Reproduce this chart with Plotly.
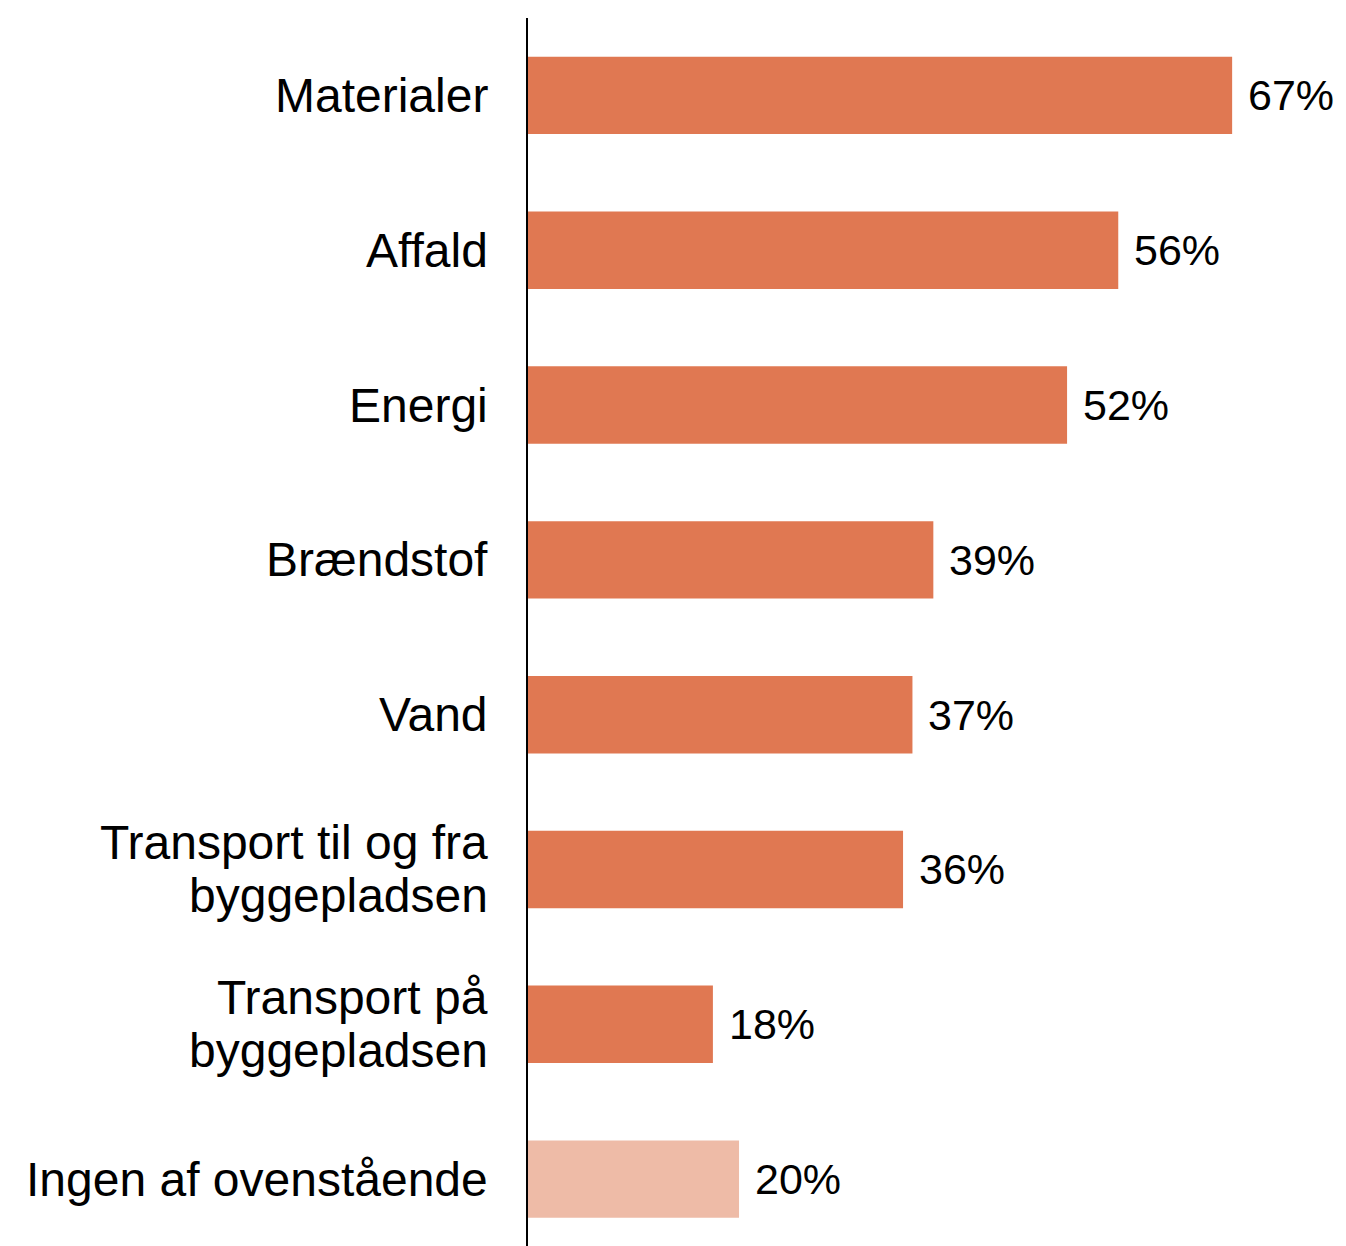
import plotly.graph_objects as go

categories = ["Materialer", "Affald", "Energi", "Brændstof", "Vand",
              "Transport til og fra\nbyggepladsen", "Transport på\nbyggepladsen",
              "Ingen af ovenstående"]
values = [67.4, 56.5, 51.6, 38.8, 36.8, 35.9, 17.7, 20.2]
labels = ["67%", "56%", "52%", "39%", "37%", "36%", "18%", "20%"]
colors = ["#E07852"] * 7 + ["#EEBBA7"]

FONT = "Liberation Sans, Arial, sans-serif"

fig = go.Figure(go.Bar(
    x=values, y=list(range(len(categories))), orientation="h",
    marker=dict(color=colors, line=dict(width=0)),
    hoverinfo="skip",
))

annotations = []
for i, (cat, v, lab) in enumerate(zip(categories, values, labels)):
    lines = cat.split("\n")
    n = len(lines)
    spacing = 53
    for j, line in enumerate(lines):
        shift = (n - 1) / 2 * spacing - j * spacing
        annotations.append(dict(
            x=0, xref="x", y=i, yref="y", text=line, showarrow=False,
            xanchor="right", yanchor="middle", xshift=-38, yshift=shift,
            font=dict(family=FONT, size=48, color="#000000"),
        ))
    annotations.append(dict(
        x=v, xref="x", y=i, yref="y", text=lab, showarrow=False,
        xanchor="left", yanchor="middle", xshift=14,
        font=dict(family=FONT, size=43, color="#000000"),
    ))

fig.update_layout(
    width=1338, height=1238,
    margin=dict(l=520, r=0, t=10, b=0),
    plot_bgcolor="white", paper_bgcolor="white",
    bargap=0.5, showlegend=False,
    annotations=annotations,
    xaxis=dict(range=[0, 78.3], showgrid=False, zeroline=False,
               showticklabels=False, ticks="", showline=False),
    yaxis=dict(range=[7.432, -0.5], showgrid=False, zeroline=False,
               showticklabels=False, ticks="", showline=True,
               linecolor="#000000", linewidth=2),
)

fig.write_html("out.html")
